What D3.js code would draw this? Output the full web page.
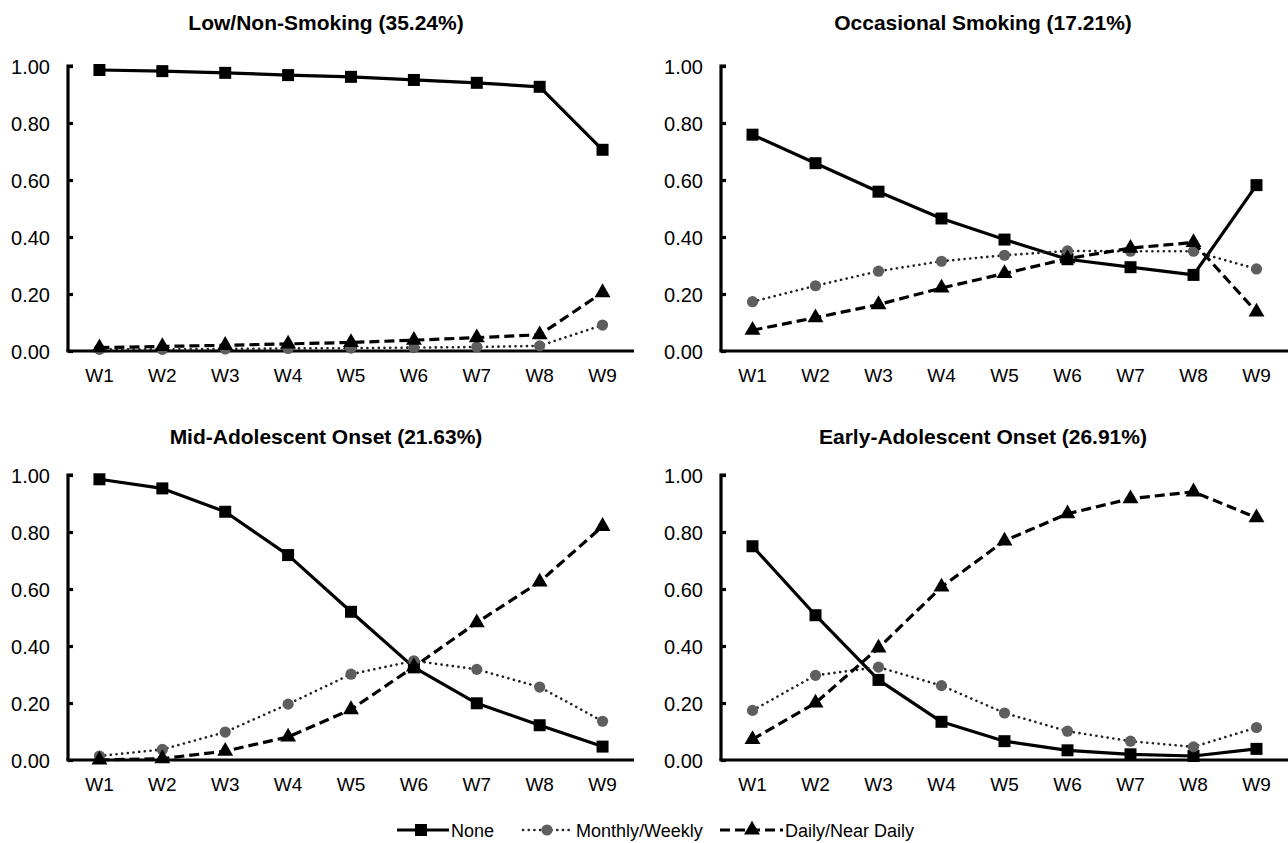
<!DOCTYPE html>
<html>
<head>
<meta charset="utf-8">
<script src="https://cdn.jsdelivr.net/npm/d3@7/dist/d3.min.js"></script>
<style>
  html, body { margin: 0; padding: 0; background: #fff; }
  svg { display: block; }
  text { font-family: "Liberation Sans", Arial, sans-serif; fill: #000; }
</style>
</head>
<body>
<svg id="chart" width="1288" height="843"></svg>
<script>
// ---------- data ----------
const waves = ["W1", "W2", "W3", "W4", "W5", "W6", "W7", "W8", "W9"];
const yTicks = [0, 0.2, 0.4, 0.6, 0.8, 1.0];
const seriesNames = ["None", "Monthly/Weekly", "Daily/Near Daily"];
const panelTitles = [
  "Low/Non-Smoking (35.24%)",
  "Occasional Smoking (17.21%)",
  "Mid-Adolescent Onset (21.63%)",
  "Early-Adolescent Onset (26.91%)"
];

const lowNone    = [0.986, 0.982, 0.976, 0.968, 0.962, 0.951, 0.941, 0.927, 0.706];
const lowMonthly = [0.006, 0.006, 0.007, 0.009, 0.010, 0.012, 0.014, 0.018, 0.091];
const lowDaily   = [0.012, 0.016, 0.020, 0.025, 0.030, 0.038, 0.047, 0.057, 0.205];

const occNone    = [0.759, 0.659, 0.559, 0.465, 0.391, 0.322, 0.294, 0.267, 0.582];
const occMonthly = [0.173, 0.229, 0.280, 0.315, 0.336, 0.351, 0.350, 0.350, 0.288];
const occDaily   = [0.073, 0.117, 0.163, 0.221, 0.272, 0.324, 0.361, 0.381, 0.137];

const midNone    = [0.985, 0.953, 0.871, 0.719, 0.520, 0.325, 0.199, 0.122, 0.047];
const midMonthly = [0.014, 0.037, 0.098, 0.196, 0.301, 0.348, 0.318, 0.256, 0.136];
const midDaily   = [0.000, 0.005, 0.031, 0.081, 0.177, 0.327, 0.482, 0.625, 0.820];

const earlyNone    = [0.750, 0.508, 0.281, 0.134, 0.066, 0.034, 0.020, 0.014, 0.039];
const earlyMonthly = [0.174, 0.297, 0.326, 0.261, 0.165, 0.101, 0.066, 0.046, 0.114];
const earlyDaily   = [0.072, 0.200, 0.393, 0.607, 0.769, 0.864, 0.917, 0.941, 0.850];

const panelData = [
  [lowNone, lowMonthly, lowDaily],
  [occNone, occMonthly, occDaily],
  [midNone, midMonthly, midDaily],
  [earlyNone, earlyMonthly, earlyDaily]
];

// ---------- layout ----------
const panels = [
  { x0: 68,  x1: 634,  top: 66,  bottom: 351, titleX: 326, titleY: 30 },
  { x0: 721, x1: 1288, top: 66,  bottom: 351, titleX: 983, titleY: 30 },
  { x0: 68,  x1: 634,  top: 475, bottom: 760, titleX: 326, titleY: 444 },
  { x0: 721, x1: 1288, top: 475, bottom: 760, titleX: 983, titleY: 444 }
];

const styles = [
  { stroke: "#000", width: 3.2, dash: null, marker: "square", fill: "#000" },
  { stroke: "#222", width: 2.6, dash: "0.1,5.6", marker: "circle", fill: "#5e5e5e" },
  { stroke: "#000", width: 3.2, dash: "10,5", marker: "triangle", fill: "#000" }
];

const svg = d3.select("#chart");
const FONT = '"Liberation Sans", Arial, sans-serif';

function drawMarker(g, type, x, y, fill) {
  if (type === "square") {
    g.append("path")
      .attr("d", d3.symbol().type(d3.symbolSquare).size(144)())
      .attr("transform", `translate(${x},${y})`)
      .attr("fill", fill);
  } else if (type === "circle") {
    g.append("circle").attr("cx", x).attr("cy", y).attr("r", 5.6).attr("fill", fill);
  } else {
    g.append("path")
      .attr("d", d3.symbol().type(d3.symbolTriangle).size(110)())
      .attr("transform", `translate(${x},${y})`)
      .attr("fill", fill);
  }
}

panels.forEach((p, pi) => {
  const g = svg.append("g");
  const x = d3.scaleBand().domain(waves).range([p.x0, p.x1]).padding(0);
  const y = d3.scaleLinear().domain([0, 1]).range([p.bottom, p.top]);

  // title
  g.append("text")
    .attr("x", p.titleX).attr("y", p.titleY)
    .attr("text-anchor", "middle")
    .attr("font-size", 21).attr("font-weight", "bold")
    .text(panelTitles[pi]);

  // y axis
  const yAxis = d3.axisRight(y).tickValues(yTicks).tickSize(5).tickFormat(d3.format(".2f"));
  const ya = g.append("g").attr("transform", `translate(${p.x0},0)`).call(yAxis);
  ya.select(".domain").attr("stroke", "#000").attr("stroke-width", 3.2)
    .attr("d", `M5,${p.top}H0V${p.bottom}`);
  ya.selectAll(".tick line").attr("stroke", "#000").attr("stroke-width", 3.2);
  ya.selectAll(".tick text")
    .attr("x", -18).attr("text-anchor", "end").attr("dy", "0.36em")
    .attr("font-size", 20).attr("fill", "#000")
    .style("font-family", FONT);

  // x axis
  const xAxis = d3.axisBottom(x).tickSize(0).tickPadding(18);
  const xa = g.append("g").attr("transform", `translate(0,${p.bottom})`).call(xAxis);
  xa.select(".domain").attr("stroke", "#000").attr("stroke-width", 3.2)
    .attr("d", `M${p.x0 - 1.6},0H${p.x1}`);
  xa.selectAll(".tick text")
    .attr("font-size", 19).attr("fill", "#000")
    .style("font-family", FONT);

  // series
  const line = d3.line().x((d, i) => x(waves[i]) + x.bandwidth() / 2).y(d => y(d));
  panelData[pi].forEach((vals, si) => {
    const s = styles[si];
    const sg = g.append("g");
    sg.append("path")
      .attr("d", line(vals))
      .attr("fill", "none")
      .attr("stroke", s.stroke)
      .attr("stroke-width", s.width)
      .attr("stroke-dasharray", s.dash)
      .attr("stroke-linecap", si === 1 ? "round" : "butt")
      .attr("stroke-linejoin", "round");
    vals.forEach((v, i) => {
      drawMarker(sg, s.marker, x(waves[i]) + x.bandwidth() / 2, y(v), s.fill);
    });
  });
});

// ---------- legend ----------
const legendItems = [
  { x1: 397, x2: 449, mx: 421, tx: 451 },
  { x1: 523, x2: 573, mx: 547, tx: 576 },
  { x1: 720, x2: 783, mx: 752, tx: 785 }
];
const ly = 830;
const lg = svg.append("g");
legendItems.forEach((it, i) => {
  const s = styles[i];
  lg.append("line")
    .attr("x1", it.x1).attr("x2", it.x2).attr("y1", ly).attr("y2", ly)
    .attr("stroke", s.stroke).attr("stroke-width", s.width)
    .attr("stroke-dasharray", s.dash)
    .attr("stroke-linecap", i === 1 ? "round" : "butt");
  drawMarker(lg, s.marker, it.mx, ly, s.fill);
  lg.append("text")
    .attr("x", it.tx).attr("y", ly + 6.5)
    .attr("font-size", 18)
    .text(seriesNames[i]);
});
</script>
</body>
</html>
